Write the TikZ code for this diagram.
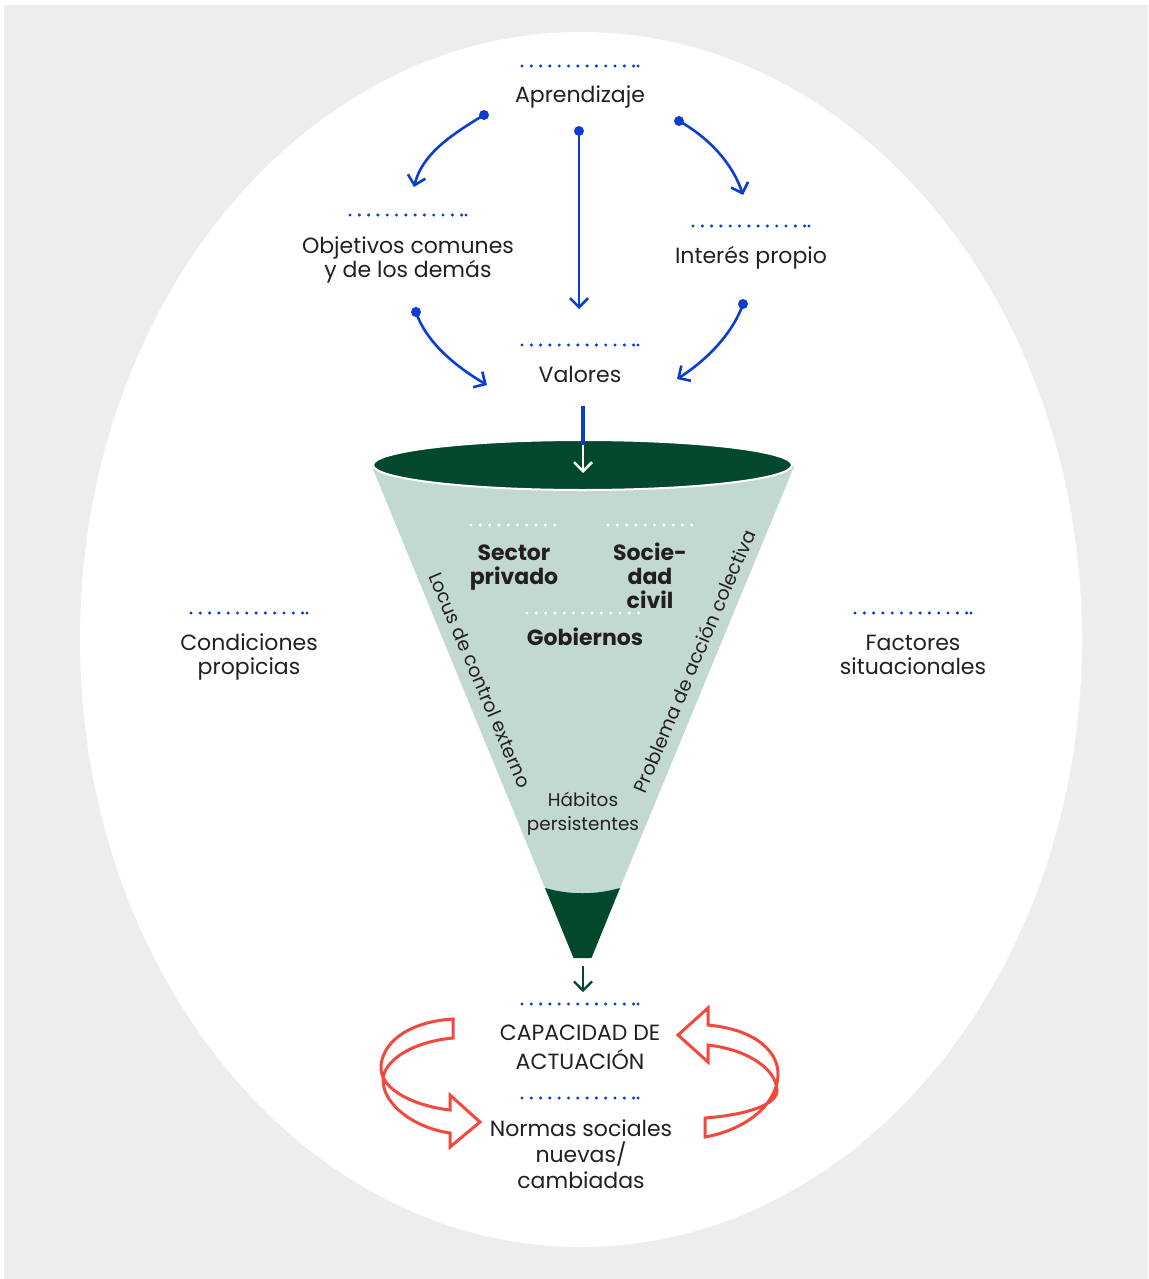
\documentclass[tikz,border=0pt]{standalone}
\usepackage{fontspec}
\setmainfont{Poppins}
\usetikzlibrary{arrows.meta}
\definecolor{bg}{HTML}{EEEDEB}
\definecolor{ublue}{HTML}{0A3DD0}
\definecolor{dgreen}{HTML}{02482C}
\definecolor{lgreen}{HTML}{C2D9D2}
\definecolor{ured}{HTML}{F2493C}
\definecolor{ink}{HTML}{231F20}
\newcommand\dotrow[4]{\foreach \i in {1,...,#3}{\fill[#4] ({#1+9.3*(\i-1)},#2) circle[radius=0.85pt];}}
\newcommand\bluedots[2]{\dotrow{#1}{#2}{13}{ublue}\fill[ublue] ({#1+116},#2) circle[radius=0.85pt];}
\tikzset{
  lbl/.style={text=ink, font=\fontsize{11}{12}\selectfont, align=center, inner sep=0pt, anchor=base},
  flbl/.style={lbl, font=\bfseries\fontsize{11}{12}\selectfont},
  slbl/.style={text=ink, font=\fontsize{9.5}{12}\selectfont, inner sep=0pt},
  flow/.style={ublue, line width=1.3pt, -{Straight Barb[length=4.5pt,width=9pt]}},
  startdot/.style={fill=ublue},
  loop/.style={draw=ured, line width=1.5pt, line join=miter}
}
\begin{document}
\begin{tikzpicture}[x=0.5pt,y=-0.5pt]
\useasboundingbox (0,0) rectangle (1148,1279);
\fill[white] (0,0) rectangle (1148,1279);
\fill[bg] (4,5) rectangle (1148,1279);
\fill[white] (581,639.5) ellipse [x radius=250.5pt, y radius=303.75pt];

% funnel
\fill[lgreen] (371.7,466) -- (794.3,466) -- (617.1,895) -- (547.9,895) -- cycle;
\fill[dgreen] (545,888) .. controls (570,895) and (595,895) .. (620,888) -- (591.5,958) -- (573.5,958) -- cycle;
\filldraw[fill=dgreen, draw=white, line width=1pt] (582.5,465) ellipse [x radius=104.75pt, y radius=12.5pt];

% dotted rules
\bluedots{522}{66}
\bluedots{350}{215}
\bluedots{693}{226}
\bluedots{522}{345}
\bluedots{191}{613}
\bluedots{855}{613}
\bluedots{522}{1004}
\bluedots{522}{1098}
\dotrow{471}{525}{10}{white}
\dotrow{608}{525}{10}{white}
\dotrow{527}{613}{13}{white}

% labels (base anchor = baseline of the last line)
\node[lbl] (apr) at (580,103) {Aprendizaje};
\node[lbl] (obj) at (408,277) {Objetivos comunes\\y de los demás};
\node[lbl] (int) at (751,263) {Interés propio};
\node[lbl] (val) at (580,382) {Valores};
\node[lbl] (cond) at (249,674) {Condiciones\\propicias};
\node[lbl] (fac) at (913,674) {Factores\\situacionales};
\node[flbl] (sec) at (514,584) {Sector\\privado};
\node[flbl] (soc) at (650,608) {Socie-\\dad\\civil};
\node[flbl] (gob) at (585,645) {Gobiernos};
\node[slbl, font=\fontsize{9.2}{12}\selectfont, align=center, anchor=base] (hab) at (583,830) {Hábitos\\persistentes};
\node[slbl, rotate=-67] (loc) at (480,680) {Locus de control externo};
\node[slbl, rotate=67] (pro) at (694,661) {Problema de acción colectiva};
\node[lbl, font=\fontsize{11}{14.5}\selectfont] (cap) at (580,1069) {CAPACIDAD DE\\ACTUACIÓN};
\node[lbl, font=\fontsize{11}{13}\selectfont] (nor) at (581,1188) {Normas sociales\\nuevas/\\cambiadas};

% blue connectors
\coordinate (a1s) at (484,115); \coordinate (a1e) at (414,187);
\coordinate (a2s) at (579,131); \coordinate (a2e) at (579,309);
\coordinate (a3s) at (679,121); \coordinate (a3e) at (743,195);
\coordinate (a4s) at (416,312); \coordinate (a4e) at (487,385);
\coordinate (a5s) at (743,304); \coordinate (a5e) at (677,379);
\draw[flow] (a1s) .. controls (449,136) and (422,155) .. (a1e);
\draw[flow] (a2s) -- (a2e);
\draw[flow] (a3s) .. controls (711,139) and (733,165) .. (a3e);
\draw[flow] (a4s) .. controls (426,342) and (455,366) .. (a4e);
\draw[flow] (a5s) .. controls (733,333) and (707,360) .. (a5e);
\foreach \p in {a1s,a2s,a3s,a4s,a5s} \fill[startdot] (\p) circle[radius=2.5pt];

% into and out of the funnel
\coordinate (v1) at (583,406); \coordinate (v2) at (583,445); \coordinate (v3) at (583,473);
\draw[ublue, line width=1.6pt] (v1) -- (v2);
\draw[white, line width=1.3pt, -{Straight Barb[length=4.5pt,width=9pt]}] (v2) -- (v3);
\coordinate (g1) at (583,966); \coordinate (g2) at (583,992);
\draw[dgreen, line width=1.1pt, -{Straight Barb[length=4.5pt,width=9pt]}] (g1) -- (g2);

% red loop arrows
\draw[loop] (453,1038) .. controls (410,1042) and (383,1062) .. (383,1080)
  .. controls (383,1105) and (415,1128) .. (450,1133)
  -- (450,1147) -- (480,1122) -- (450,1095) -- (450,1110)
  .. controls (415,1106) and (381,1090) .. (381,1068)
  .. controls (381,1045) and (405,1022) .. (453,1019) -- cycle;
\draw[loop] (705,1137) .. controls (745,1130) and (777,1105) .. (778,1075)
  .. controls (779,1055) and (760,1030) .. (708,1025)
  -- (708,1008) -- (678,1035) -- (708,1062) -- (708,1045)
  .. controls (750,1050) and (776,1070) .. (777,1090)
  .. controls (778,1105) and (745,1115) .. (705,1118) -- cycle;
\end{tikzpicture}
\end{document}
